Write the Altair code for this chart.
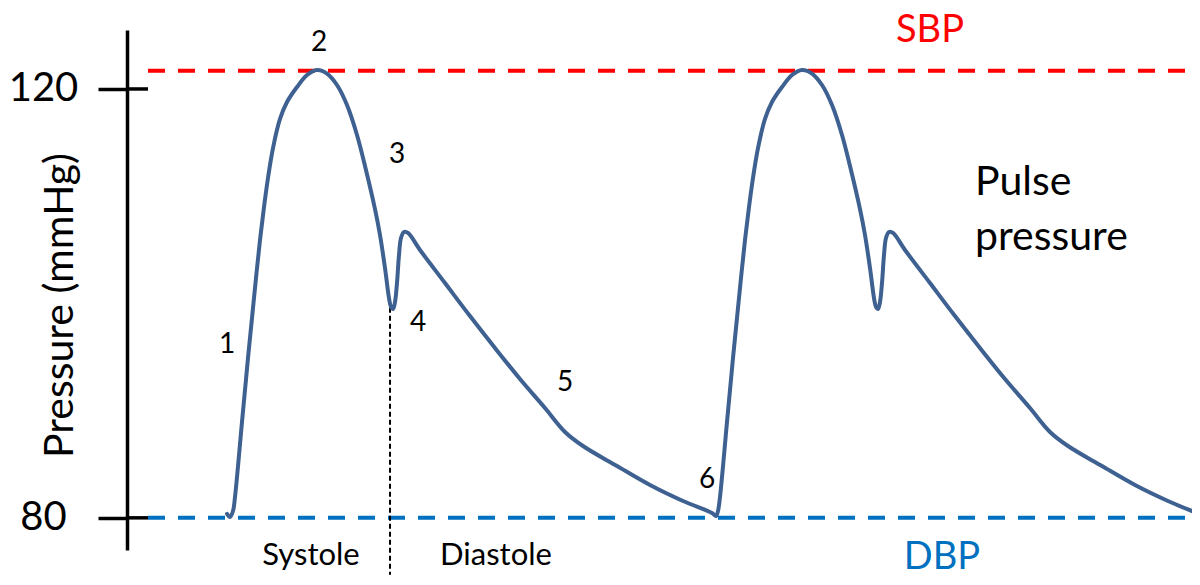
import altair as alt
import pandas as pd

# ---- data (time in arbitrary units, pressure in mmHg) ----
cycle1_time = [-3, 0, 3, 5, 12, 18, 22, 26, 30, 34, 38, 43, 50, 57, 67, 77, 87, 97, 107, 117,
               127, 135, 145, 150, 155, 159, 161, 163, 165, 167, 169, 171, 174, 178, 190, 215,
               240, 265, 290, 315, 335, 353, 387, 420, 453, 482, 486]
cycle1_pressure = [80.36, 80.08, 80.64, 81.94, 88.94, 94.91, 98.64, 102.37, 105.91, 108.99,
                   111.70, 114.49, 117.20, 118.78, 120.18, 121.30, 121.77, 121.44, 120.37, 118.50,
                   115.71, 112.82, 108.80, 106.38, 103.30, 100.50, 99.66, 99.48, 100.13, 101.90,
                   104.51, 106.10, 106.66, 106.57, 104.98, 101.90, 98.82, 95.84, 92.95, 90.24,
                   88.01, 86.70, 84.83, 83.06, 81.57, 80.45, 80.17]
cycle2_time = [488, 490, 497, 503, 507, 511, 515, 519, 523, 528, 535, 542, 552, 562, 572, 582,
               592, 602, 612, 620, 630, 635, 640, 644, 646, 648, 650, 652, 654, 656, 659, 663,
               675, 700, 725, 750, 775, 800, 820, 838, 872, 905, 938, 967]
cycle2_pressure = [80.64, 81.94, 88.94, 94.91, 98.64, 102.37, 105.91, 108.99, 111.70, 114.49,
                   117.20, 118.78, 120.18, 121.30, 121.77, 121.44, 120.37, 118.50, 115.71, 112.82,
                   108.80, 106.38, 103.30, 100.50, 99.66, 99.48, 100.13, 101.90, 104.51, 106.10,
                   106.66, 106.57, 104.98, 101.90, 98.82, 95.84, 92.95, 90.24, 88.01, 86.70,
                   84.83, 83.06, 81.57, 80.45]

sbp_value = 121.7
dbp_value = 80
line_start, line_end = -82, 967
notch_time = 160
notch_top, notch_bottom = 99.6, 74.7
tick_values = [80, 120]
tick_inner_start, tick_inner_end = -103, -82

point_labels = ["1", "2", "3", "4", "5", "6"]
point_time = [-3, 89, 167, 188, 335, 477]
point_pressure = [96.1, 124.3, 113.8, 98.2, 92.6, 83.5]

phase_labels = ["Systole", "Diastole"]
phase_time = [81, 266]
phase_pressure = [76.4, 76.4]

bp_labels = ["SBP", "DBP"]
bp_time = [700, 712]
bp_pressure = [125.4, 76.25]
bp_colors = ["#FF0000", "#0070C0"]

pp_lines = ["Pulse", "pressure"]
pp_time = [745, 745]
pp_pressure = [110.1, 104.98]

# ---- tables ----
curve = pd.DataFrame({
    "t": cycle1_time + cycle2_time,
    "p": cycle1_pressure + cycle2_pressure,
})
curve["order"] = range(len(curve))

bp_lines = pd.DataFrame({
    "t": [line_start, line_start], "t2": [line_end, line_end],
    "p": [sbp_value, dbp_value], "c": bp_colors,
})
notch = pd.DataFrame({"t": [notch_time], "p": [notch_top], "p2": [notch_bottom]})
inner_ticks = pd.DataFrame({"t": [tick_inner_start] * 2, "t2": [tick_inner_end] * 2, "p": tick_values})
pts = pd.DataFrame({"label": point_labels, "t": point_time, "p": point_pressure})
phases = pd.DataFrame({"label": phase_labels, "t": phase_time, "p": phase_pressure})
bps = pd.DataFrame({"label": bp_labels, "t": bp_time, "p": bp_pressure, "c": bp_colors})
pp = pd.DataFrame({"label": pp_lines, "t": pp_time, "p": pp_pressure})

FONT = "Lato"
xs = alt.Scale(domain=[-103, 962], nice=False, zero=False)
ys = alt.Scale(domain=[77, 125.5], nice=False, zero=False)
y_axis = alt.Axis(
    values=tick_values, title="Pressure (mmHg)", grid=False,
    domain=True, domainColor="black", domainWidth=3.5,
    ticks=True, tickColor="black", tickWidth=3.5, tickSize=29,
    labelFont=FONT, labelFontSize=40, labelColor="black", labelAlign="center",
    labelBaseline="middle", labelPadding=55, labelFlush=False, labelOverlap=False,
    titleFont=FONT, titleFontSize=41, titleFontWeight="normal", titleColor="black",
    titleAngle=270, titleX=-55, titleY=275, titleAlign="center", titleBaseline="alphabetic",
)


def X(f="t"):
    return alt.X(f"{f}:Q", scale=xs, axis=None)


def Y(f="p"):
    return alt.Y(f"{f}:Q", scale=ys, axis=y_axis)


lines_layer = alt.Chart(bp_lines).mark_rule(strokeWidth=4, strokeDash=[17, 13]).encode(
    x=X(), x2="t2:Q", y=Y(), color=alt.Color("c:N", scale=None)
)
notch_layer = alt.Chart(notch).mark_rule(strokeWidth=2, strokeDash=[5, 3], color="black").encode(
    x=X(), y=Y(), y2="p2:Q"
)
tick_layer = alt.Chart(inner_ticks).mark_rule(strokeWidth=3.5, color="black").encode(
    x=X(), x2="t2:Q", y=Y()
)
curve_layer = alt.Chart(curve).mark_line(
    color="#3E6191", strokeWidth=4, interpolate="catmull-rom", strokeCap="round", strokeJoin="round"
).encode(x=X(), y=Y(), order="order:Q")

pts_layer = alt.Chart(pts).mark_text(font=FONT, fontSize=28, color="black", baseline="middle", align="center").encode(
    x=X(), y=Y(), text="label:N"
)
phase_layer = alt.Chart(phases).mark_text(font=FONT, fontSize=31, color="black", baseline="middle", align="center").encode(
    x=X(), y=Y(), text="label:N"
)
bp_layer = alt.Chart(bps).mark_text(font=FONT, fontSize=38, baseline="middle", align="center").encode(
    x=X(), y=Y(), text="label:N", color=alt.Color("c:N", scale=None)
)
pp_layer = alt.Chart(pp).mark_text(font=FONT, fontSize=41, color="black", baseline="alphabetic", align="left").encode(
    x=X(), y=Y(), text="label:N"
)

chart = alt.layer(
    lines_layer, notch_layer, tick_layer, curve_layer, pts_layer, phase_layer, bp_layer, pp_layer
).properties(
    width=1065, height=520,
    padding={"left": 119, "top": 22, "right": 0, "bottom": 27},
    autosize=alt.AutoSizeParams(type="none"),
    background="white",
).configure_view(stroke=None)

chart.save("out.html", embed_options={"renderer": "svg", "actions": False})
